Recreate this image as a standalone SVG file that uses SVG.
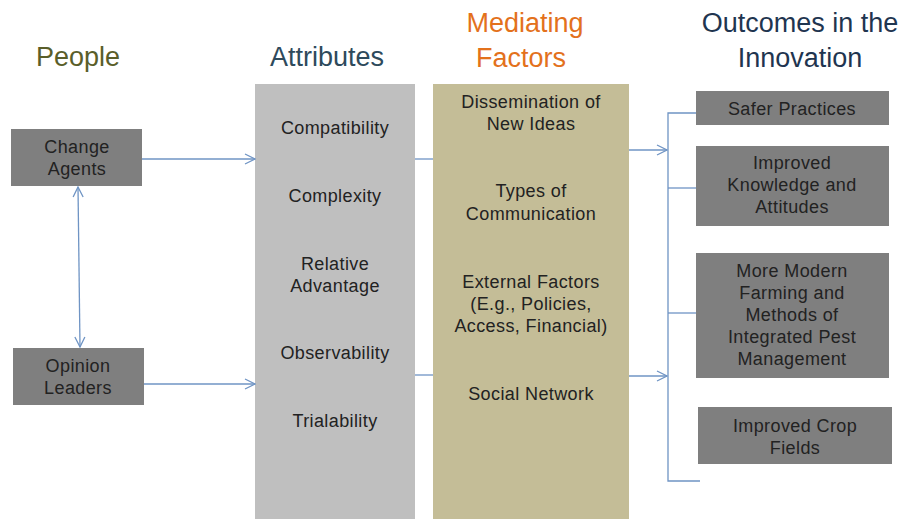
<svg xmlns="http://www.w3.org/2000/svg" width="902" height="519" viewBox="0 0 902 519">
<style>
.h{font-family:"Liberation Sans",Arial,sans-serif;font-size:27px;text-anchor:middle}
.t{font-family:"Liberation Sans",Arial,sans-serif;font-size:18px;letter-spacing:0.4px;fill:#222;text-anchor:middle}
.box{fill:#7F7F7F}
.c{stroke:#6F94C4;stroke-width:1.3;fill:none}
</style>
<defs>
<marker id="a" viewBox="0 0 12 12" refX="11" refY="6" markerWidth="12" markerHeight="12" markerUnits="userSpaceOnUse" orient="auto-start-reverse">
<path d="M1,1 L11,6 L1,11" fill="none" stroke="#6F94C4" stroke-width="1.3"/>
</marker>
</defs>
<rect width="902" height="519" fill="#fff"/>
<g id="headers">
<text class="h" x="78" y="66" fill="#5A5E2A">People</text>
<text class="h" x="327" y="66" fill="#2E4A5C">Attributes</text>
<text class="h" x="525" y="32" fill="#E3711C">Mediating</text>
<text class="h" x="521" y="67" fill="#E3711C">Factors</text>
<text class="h" x="800" y="32" fill="#1F3550">Outcomes in the</text>
<text class="h" x="800" y="67" fill="#1F3550">Innovation</text>
</g>
<g id="attributes">
<rect x="255" y="84" width="160" height="435" fill="#BFBFBF"/>
<text class="t" x="335" y="134">Compatibility</text>
<text class="t" x="335" y="202">Complexity</text>
<text class="t" x="335" y="270">Relative</text>
<text class="t" x="335" y="292">Advantage</text>
<text class="t" x="335" y="359">Observability</text>
<text class="t" x="335" y="427">Trialability</text>
</g>
<g id="mediating">
<rect x="433" y="84" width="196" height="435" fill="#C4BD97"/>
<text class="t" x="531" y="108">Dissemination of</text>
<text class="t" x="531" y="130">New Ideas</text>
<text class="t" x="531" y="197">Types of</text>
<text class="t" x="531" y="220">Communication</text>
<text class="t" x="531" y="288">External Factors</text>
<text class="t" x="531" y="310">(E.g., Policies,</text>
<text class="t" x="531" y="332">Access, Financial)</text>
<text class="t" x="531" y="400">Social Network</text>
</g>
<g id="change-agents">
<rect class="box" x="11" y="129" width="131" height="57"/>
<text class="t" x="77" y="153">Change</text>
<text class="t" x="77" y="175">Agents</text>
</g>
<g id="opinion-leaders">
<rect class="box" x="13" y="348" width="131" height="57"/>
<text class="t" x="78" y="372">Opinion</text>
<text class="t" x="78" y="394">Leaders</text>
</g>
<g id="safer-practices">
<rect class="box" x="696" y="91" width="193" height="34"/>
<text class="t" x="792" y="115">Safer Practices</text>
</g>
<g id="improved-knowledge">
<rect class="box" x="696" y="146" width="193" height="80"/>
<text class="t" x="792" y="169">Improved</text>
<text class="t" x="792" y="191">Knowledge and</text>
<text class="t" x="792" y="213">Attitudes</text>
</g>
<g id="modern-farming">
<rect class="box" x="696" y="253" width="193" height="125"/>
<text class="t" x="792" y="277">More Modern</text>
<text class="t" x="792" y="299">Farming and</text>
<text class="t" x="792" y="321">Methods of</text>
<text class="t" x="792" y="343">Integrated Pest</text>
<text class="t" x="792" y="365">Management</text>
</g>
<g id="crop-fields">
<rect class="box" x="698" y="407" width="194" height="57"/>
<text class="t" x="795" y="432">Improved Crop</text>
<text class="t" x="795" y="454">Fields</text>
</g>
<g id="connectors">
<line class="c" x1="142" y1="159" x2="255" y2="159" marker-end="url(#a)"/>
<line class="c" x1="144" y1="384" x2="255" y2="384" marker-end="url(#a)"/>
<line class="c" x1="78" y1="187" x2="80" y2="347" marker-start="url(#a)" marker-end="url(#a)"/>
<line class="c" x1="415" y1="159" x2="433" y2="159"/>
<line class="c" x1="415" y1="375" x2="433" y2="375"/>
<line class="c" x1="629" y1="150" x2="667" y2="150" marker-end="url(#a)"/>
<line class="c" x1="629" y1="376" x2="667" y2="376" marker-end="url(#a)"/>
<polyline class="c" points="696,113 668,113 668,481 700,481"/>
<line class="c" x1="668" y1="188" x2="696" y2="188"/>
<line class="c" x1="668" y1="313" x2="696" y2="313"/>
</g>
</svg>
